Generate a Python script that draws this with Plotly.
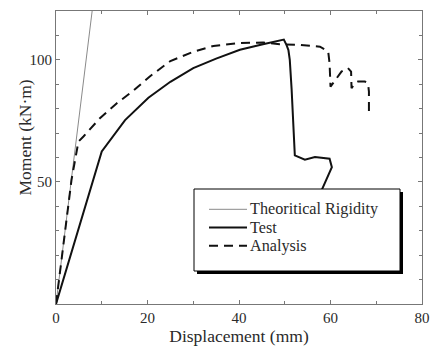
import plotly.graph_objects as go

# Theoretical rigidity line
theory_x = [0, 9.0]
theory_y = [0, 136.7]

# Test curve
test_x = [0, 10, 15.1, 20.2, 25, 30, 35, 40.2, 45, 48.9, 49.8, 50.4, 50.8, 51.1, 51.5,
          52.2, 54.4, 56.6, 59.8, 60.3, 58, 56.5]
test_y = [0, 62.5, 75.3, 84.5, 91, 96.6, 100.5, 104.1, 106.3, 107.9, 108.3, 106, 104, 100, 88,
          60.9, 59.1, 60.2, 59.5, 56, 46.5, 40]

# Analysis curve
ana_x = [0, 1.5, 3.4, 4.9, 6, 9.6, 13.3, 17, 20.5, 25, 30, 34.4, 39.5, 45.3, 48.9, 53.3,
         57.7, 59.5, 59.8, 60, 62.4, 63.8, 64.5, 64.6, 65.3, 66, 67.5, 68.2, 68.4, 68.4]
ana_y = [0, 22, 51, 66.5, 68.6, 76.1, 82.2, 87.5, 93.2, 99.5, 103.3, 105.7, 106.8, 107.1, 106.4,
         106.1, 105.4, 103.4, 98.6, 89, 95.2, 96.6, 95.2, 88.4, 90.4, 91.1, 91.1, 90.4, 87, 78.8]

series_names = ["Theoritical Rigidity", "Test", "Analysis"]
x_ticks = [0, 20, 40, 60, 80]
y_ticks = [50, 100]

serif = "Liberation Serif"
axis_col = "#777777"
text_col = "#2a2a2a"

styles = [dict(color="#8a8a8a", width=1),
          dict(color="#111111", width=2),
          dict(color="#111111", width=2, dash="9px,6px")]

fig = go.Figure()
for name, xs, ys, st in zip(series_names, [theory_x, test_x, ana_x],
                            [theory_y, test_y, ana_y], styles):
    fig.add_trace(go.Scatter(x=xs, y=ys, mode="lines", name=name, line=st, showlegend=False))

# manual legend box (shadow + frame), positioned in pixels of the plot area
W, H = 366, 293
def px(p):
    return (p - 56) / W
def py(p):
    return (304 - p) / H
L, R, T, B = 194, 400, 189, 271
fig.add_shape(type="rect", xref="paper", yref="paper", x0=px(L + 3), x1=px(R + 3),
              y0=py(B + 3), y1=py(T + 3), fillcolor="#000000", line=dict(width=0), layer="above")
fig.add_shape(type="rect", xref="paper", yref="paper", x0=px(L), x1=px(R),
              y0=py(B), y1=py(T), fillcolor="#ffffff", line=dict(color="#000000", width=1),
              layer="above")
rows = [209.3, 227.5, 245.7]
for name, st, ry in zip(series_names, styles, rows):
    fig.add_shape(type="line", xref="paper", yref="paper", x0=px(209), x1=px(247),
                  y0=py(ry), y1=py(ry), line=st, layer="above")
    fig.add_annotation(xref="paper", yref="paper", x=px(248), y=py(ry), text=name,
                       showarrow=False, xanchor="left", yanchor="middle",
                       font=dict(family=serif, size=16.2, color=text_col))

# y-axis title placed as in the reference (slightly above centre)
fig.add_annotation(xref="paper", yref="paper", x=px(24), y=py(137.5), text="Moment (kN·m)",
                   textangle=-90, showarrow=False, xanchor="center", yanchor="middle",
                   font=dict(family=serif, size=17.5, color=text_col))

fig.update_layout(
    width=434, height=347,
    margin=dict(l=56, r=12, t=11, b=43),
    paper_bgcolor="white", plot_bgcolor="white",
    font=dict(family=serif, color=text_col, size=15),
    showlegend=False,
    xaxis=dict(range=[0, 80], tickvals=x_ticks, ticks="inside", ticklen=4,
               tickcolor=axis_col, showline=True, linecolor=axis_col, linewidth=1,
               mirror="ticks", showgrid=False, zeroline=False, automargin=False,
               ticklabeloverflow="allow",
               minor=dict(tickmode="array", tickvals=[10, 30, 50, 70], ticks="inside",
                          ticklen=3, tickcolor=axis_col, showgrid=False),
               title=dict(text="Displacement (mm)", font=dict(family=serif, size=17.5), standoff=2),
               tickfont=dict(family=serif, size=15)),
    yaxis=dict(range=[0, 120], tickvals=y_ticks, ticks="inside", ticklen=4,
               tickcolor=axis_col, showline=True, linecolor=axis_col, linewidth=1,
               mirror="ticks", showgrid=False, zeroline=False, automargin=False,
               minor=dict(tickmode="array", tickvals=[10, 20, 30, 40, 60, 70, 80, 90, 110],
                          ticks="inside", ticklen=3, tickcolor=axis_col, showgrid=False),
               tickfont=dict(family=serif, size=15)),
)

fig.write_html("out.html", config={"displayModeBar": False},
               post_script="document.body.style.margin='0px';")
